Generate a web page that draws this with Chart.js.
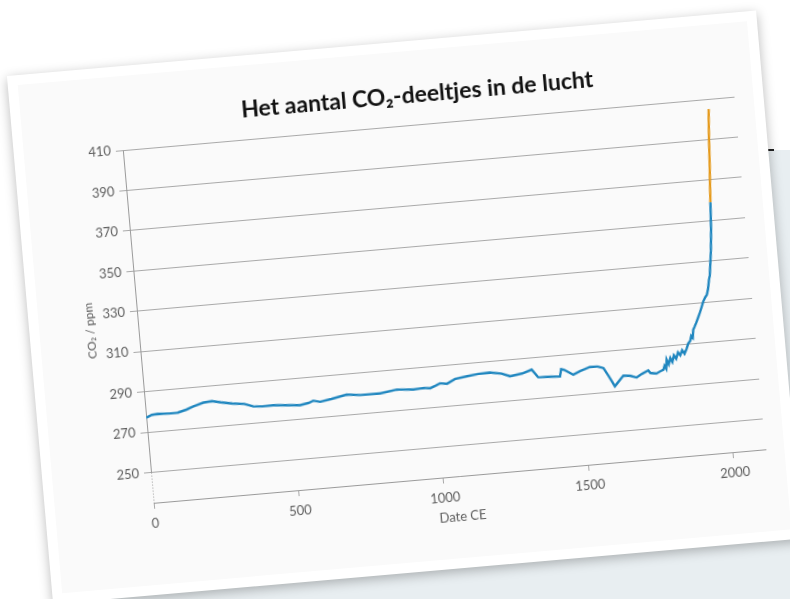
<!DOCTYPE html>
<html>
<head>
<meta charset="utf-8">
<script src="https://cdn.jsdelivr.net/npm/chart.js@4.4.1/dist/chart.umd.min.js"></script>
<style>
  html, body { margin: 0; padding: 0; width: 790px; height: 599px; overflow: hidden; background: #fff; }
  #sheet { position: absolute; left: 110px; top: 150px; width: 700px; height: 470px; background: #e8eef1; }
  #mark { position: absolute; left: 765px; top: 149px; width: 9px; height: 2px; background: #222; }
  #frame { position: absolute; left: 8px; top: 100px; width: 816px; height: 480px; transform-origin: 0 0; transform: rotate(-5deg); }
  #paper { position: absolute; left: 1px; top: -24px; width: 752px; height: 530px; background: #fff; box-shadow: 0 3px 12px rgba(0,0,0,0.28); }
  #inner { position: absolute; left: 10px; top: 10px; right: 10px; bottom: 10px; background: #fafafa; }
  #co2Chart { position: absolute; left: 0; top: 0; }
</style>
</head>
<body>
<div id="sheet"></div>
<div id="mark"></div>
<div id="frame">
  <div id="paper"><div id="inner"></div></div>
  <canvas id="co2Chart" width="816" height="480"></canvas>
</div>
<script>
// ice core record (blue)
const iceYears = [0, 20, 40, 80, 110, 140, 165, 200, 230, 260, 300, 340, 370, 400, 440, 480, 530, 560, 577, 600,
  640, 693, 740, 808, 866, 923, 960, 981, 1000, 1016, 1040, 1069, 1110, 1150, 1190, 1230, 1258, 1300, 1334, 1354,
  1400, 1429, 1435, 1445, 1475, 1500, 1534, 1560, 1580, 1595, 1614, 1630, 1646, 1670, 1691, 1710, 1733, 1740, 1760,
  1775, 1785, 1790, 1795, 1799, 1805, 1812, 1818, 1825, 1832, 1840, 1847, 1855, 1862, 1871, 1878, 1885, 1890, 1895,
  1899, 1905, 1912, 1920, 1928, 1935, 1942, 1950, 1956, 1962, 1968, 1972, 1976, 1983, 1990, 1996];
const iceCO2 = [277.2, 278.4, 278.6, 278.3, 278.4, 279.5, 280.8, 282.2, 282.6, 281.6, 280.5, 279.8, 278.2, 277.8, 277.9,
  277.4, 276.8, 277.5, 278.4, 277.6, 278.5, 280.0, 279.2, 279.1, 280.3, 279.6, 279.9, 279.5, 280.5, 281.5, 281.0, 283.0,
  283.8, 284.5, 284.7, 283.6, 282.0, 282.8, 284.3, 280.3, 280.0, 279.7, 283.3, 282.8, 280.0, 281.5, 283.1, 283.0, 282.0,
  278.0, 272.5, 275.0, 277.4, 277.0, 275.9, 277.5, 278.9, 277.5, 277.0, 278.0, 278.6, 280.5, 279.0, 283.4, 281.0, 284.0,
  282.0, 285.2, 283.5, 286.5, 285.0, 287.4, 285.6, 288.0, 290.5, 291.5, 294.0, 293.0, 297.0, 298.5, 300.5, 303.0, 305.5,
  308.0, 310.5, 312.5, 313.6, 316.5, 321.0, 323.0, 327.4, 335.0, 345.4, 359.0];

// direct measurements (orange)
const airYears = [1996, 2000, 2005, 2010, 2015, 2018];
const airCO2 = [359.0, 368.0, 378.0, 390.0, 400.0, 405.0];

const yTicks = [250, 270, 290, 310, 330, 350, 370, 390, 410];
const xTicks = [0, 500, 1000, 1500, 2000];

const gridColor = "#a9a9a9";
const tickColor = "#5e5e5e";

// y axis: solid above 250, dotted below
const yAxisLine = {
  id: "yAxisLine",
  beforeDatasetsDraw(chart) {
    const y = chart.scales.y;
    const x = Math.round(chart.chartArea.left) + 0.5;
    const ctx = chart.ctx;
    ctx.save();
    ctx.strokeStyle = "#9a9a9a";
    ctx.lineWidth = 1;
    ctx.beginPath();
    ctx.moveTo(x, y.getPixelForValue(yTicks[yTicks.length - 1]));
    ctx.lineTo(x, y.getPixelForValue(yTicks[0]));
    ctx.stroke();
    ctx.setLineDash([1, 2]);
    ctx.beginPath();
    ctx.moveTo(x, y.getPixelForValue(yTicks[0]));
    ctx.lineTo(x, chart.chartArea.bottom);
    ctx.stroke();
    ctx.restore();
  }
};

new Chart(document.getElementById("co2Chart"), {
  type: "line",
  data: {
    datasets: [{
      label: "ijskern",
      data: iceYears.map((yr, i) => ({ x: yr, y: iceCO2[i] })),
      borderColor: "#1f86bf",
      borderWidth: 2.4,
      pointRadius: 0,
      tension: 0
    }, {
      label: "metingen",
      data: airYears.map((yr, i) => ({ x: yr, y: airCO2[i] })),
      borderColor: "#e59a1c",
      borderWidth: 2.4,
      pointRadius: 0,
      tension: 0
    }]
  },
  options: {
    responsive: false,
    animation: false,
    layout: { padding: { left: 0, right: 0, top: 0, bottom: 16 } },
    plugins: {
      legend: { display: false },
      tooltip: { enabled: false },
      title: {
        display: true,
        text: "Het aantal CO₂-deeltjes in de lucht",
        color: "#111",
        font: { family: "Lato", size: 23, weight: "bold", lineHeight: 1.2 },
        padding: { top: 17.2, bottom: 15.2 }
      }
    },
    scales: {
      x: {
        type: "linear",
        min: 0,
        max: 2110,
        afterBuildTicks: s => { s.ticks = xTicks.map(v => ({ value: v })); },
        afterFit: s => { s.height = 50; },
        grid: { drawOnChartArea: false, color: gridColor, tickLength: 6 },
        border: { color: "#9a9a9a" },
        ticks: { color: tickColor, padding: 7, maxRotation: 0, font: { family: "Lato", size: 13 }, callback: v => String(v) },
        title: { display: true, text: "Date CE", color: tickColor, font: { family: "Lato", size: 13 }, padding: { top: 0, bottom: 1.6 } }
      },
      y: {
        min: 235,
        max: 410,
        afterBuildTicks: s => { s.ticks = yTicks.map(v => ({ value: v })); },
        afterFit: s => { s.width = 110; },
        grid: { color: gridColor, tickLength: 7 },
        border: { display: false },
        ticks: { color: tickColor, padding: 5, font: { family: "Lato", size: 13 }, callback: v => String(v) },
        title: { display: true, text: "CO₂ / ppm", color: tickColor, font: { family: "Lato", size: 12 }, padding: { top: 54.8, bottom: 0 } }
      },
      yR: {
        position: "right",
        afterFit: s => { s.width = 92; },
        grid: { display: false },
        border: { display: false },
        ticks: { display: false }
      }
    }
  },
  plugins: [yAxisLine]
});
</script>
</body>
</html>
